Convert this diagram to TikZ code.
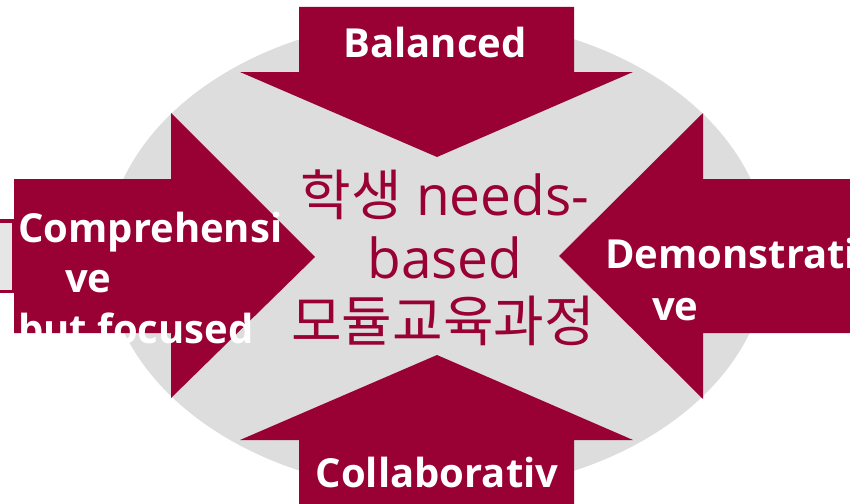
\documentclass[tikz,border=0pt]{standalone}
\usepackage{fontspec}
\setmainfont{Open Sans}
\newfontfamily\kr{Noto Sans CJK KR}
\definecolor{wine}{HTML}{990033}
\definecolor{lgrey}{HTML}{DDDDDD}
\definecolor{boxgrey}{HTML}{E6E6E6}
\begin{document}
\begin{tikzpicture}[x=1pt,y=-1pt,
  lbl/.style={text=white,font=\bfseries\fontsize{40}{48}\selectfont,inner sep=0,anchor=base west},
  lblc/.style={lbl,anchor=base},
  ctr/.style={text=wine,font=\fontsize{55}{66}\selectfont,inner sep=0,anchor=base},
  arrowfill/.style={fill=wine}]
\useasboundingbox (0,0) rectangle (850,503);
\clip (0,0) rectangle (850,503);
% background ellipse
\fill[lgrey] (437,255) ellipse [x radius=331, y radius=237];
% small partial box at the left edge
\fill[wine] (-5,219) rectangle (14,293);
\fill[boxgrey] (-5,222.5) rectangle (12,289.5);
% top arrow (pointing down)
\fill[arrowfill] (299,7) -- (574,7) -- (574,72) -- (633,72) -- (437,157) -- (240,72) -- (299,72) -- cycle;
% bottom arrow (pointing up)
\fill[arrowfill] (437,355) -- (633,440) -- (574,440) -- (574,510) -- (299,510) -- (299,440) -- (240,440) -- cycle;
% left arrow (pointing right)
\fill[arrowfill] (14,179) -- (171,179) -- (171,113) -- (315,257) -- (171,398) -- (171,333) -- (14,333) -- cycle;
% right arrow (pointing left)
\fill[arrowfill] (860,179) -- (703,179) -- (703,113) -- (559,256) -- (703,399) -- (703,333) -- (860,333) -- cycle;
% labels
\node[lblc] (bal) at (435,58) {Balanced};
\node[lblc] (col) at (437,487) {Collaborativ};
\node[lbl] (comp1) at (18,242) {Comprehensi};
\node[lbl] (comp2) at (65,292) {ve};
\node[lbl] (comp3) at (18,343) {but focused};
\node[lbl] (dem1) at (605,268) {Demonstrati};
\node[lbl] (dem2) at (652,320) {ve};
% center text
\node[ctr] (c1) at (445,215) {{\kr 학생} needs-};
\node[ctr] (c2) at (445,278) {based};
\node[ctr] (c3) at (443,341) {\kr 모듈교육과정};
\end{tikzpicture}
\end{document}
